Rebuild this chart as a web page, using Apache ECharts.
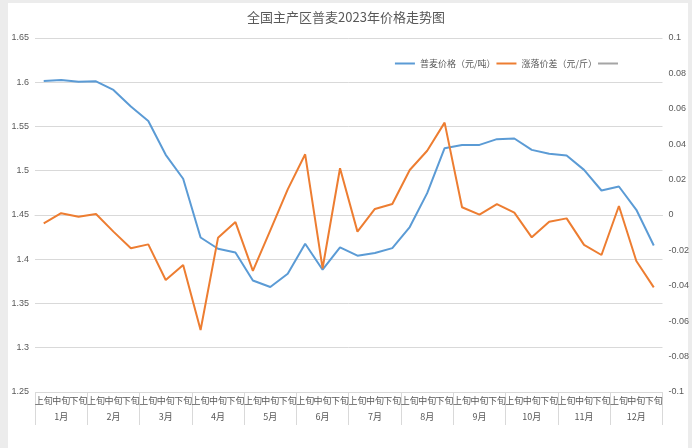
<!DOCTYPE html>
<html><head><meta charset="utf-8">
<script src="https://cdn.jsdelivr.net/npm/echarts@6/dist/echarts.min.js"></script>
<style>html,body{margin:0;padding:0;background:#fff}#c{width:692px;height:448px}</style>
</head><body><div id="c"></div>
<script>
const months = ['1月','2月','3月','4月','5月','6月','7月','8月','9月','10月','11月','12月'];
const periods = ['上旬','中旬','下旬'];
const categories = [];
months.forEach(m => periods.forEach(p => categories.push(m + p)));
const priceValues = [1.6015,1.6026,1.6007,1.601,1.5913,1.5725,1.5563,1.518,1.491,1.4246,1.4119,1.4077,1.376,1.3686,1.3836,1.4175,1.3882,1.4134,1.404,1.407,1.4126,1.4364,1.4747,1.5255,1.5292,1.5292,1.5357,1.5364,1.5236,1.5191,1.5172,1.501,1.4777,1.4822,1.4559,1.4156];
const diffValues = [-0.0047,0.001,-0.001,0.0006,-0.0094,-0.0188,-0.0166,-0.0367,-0.0282,-0.065,-0.0129,-0.004,-0.0316,-0.0087,0.0145,0.0343,-0.0301,0.0264,-0.0094,0.0034,0.0062,0.0254,0.0363,0.0522,0.0044,0.0002,0.0062,0.0013,-0.0126,-0.0038,-0.0019,-0.0169,-0.0226,0.0051,-0.026,-0.0409];
const seriesNames = ['普麦价格（元/吨）','涨落价差（元/斤）',' '];

const chart = echarts.init(document.getElementById('c'));
const txt = '#595959';
const grid = '#d9d9d9';
chart.setOption({
  animation:false,
  title:{text:'全国主产区普麦2023年价格走势图',left:'center',top:6,
    textStyle:{fontSize:13,fontWeight:'normal',color:txt,fontFamily:'Noto Sans CJK SC'}},
  legend:{data:seriesNames,right:62,top:54,itemWidth:20,itemHeight:2,itemGap:1,icon:'rect',
    textStyle:{fontSize:9,color:txt,fontFamily:'Noto Sans CJK SC'}},
  grid:{left:35,right:27,top:38,bottom:56},
  xAxis:[
    {type:'category',data:categories,boundaryGap:true,
     axisLine:{show:true,lineStyle:{color:grid}},axisTick:{show:false},
     axisLabel:{interval:0,margin:4,fontSize:9,color:txt,fontFamily:'Noto Sans CJK SC',
       formatter:v=>v.slice(-2)}},
    {type:'category',data:months,position:'bottom',boundaryGap:true,
     axisLine:{show:false},axisTick:{show:true,length:33,lineStyle:{color:grid}},
     axisLabel:{interval:0,margin:20,fontSize:9,color:txt,fontFamily:'Noto Sans CJK SC'}}
  ],
  yAxis:[
    {type:'value',min:1.25,max:1.65,interval:0.05,
     axisLine:{show:false},axisTick:{show:false},
     splitLine:{lineStyle:{color:grid}},
     axisLabel:{fontSize:9,color:txt,margin:6,formatter:v=>String(+v.toFixed(2))}},
    {type:'value',min:-0.1,max:0.1,interval:0.02,
     axisLine:{show:false},axisTick:{show:false},splitLine:{show:false},
     axisLabel:{fontSize:9,color:txt,margin:6,formatter:v=>String(+v.toFixed(2))}}
  ],
  series:[
    {name:seriesNames[0],type:'line',data:priceValues,yAxisIndex:0,xAxisIndex:0,
     symbol:'none',lineStyle:{width:2,color:'#5B9BD5'},itemStyle:{color:'#5B9BD5'}},
    {name:seriesNames[1],type:'line',data:diffValues,yAxisIndex:1,xAxisIndex:0,
     symbol:'none',lineStyle:{width:2,color:'#ED7D31'},itemStyle:{color:'#ED7D31'}},
    {name:seriesNames[2],type:'line',data:[],yAxisIndex:0,xAxisIndex:0,
     symbol:'none',lineStyle:{width:2,color:'#A5A5A5'},itemStyle:{color:'#A5A5A5'}}
  ],
  graphic:[
    {type:'rect',shape:{x:0,y:0,width:8,height:448},style:{fill:'#ececec'},silent:true},
    {type:'rect',shape:{x:0,y:0,width:692,height:3},style:{fill:'#ececec'},silent:true},
    {type:'rect',shape:{x:688,y:0,width:4,height:448},style:{fill:'#ececec'},silent:true}
  ]
});
</script></body></html>
